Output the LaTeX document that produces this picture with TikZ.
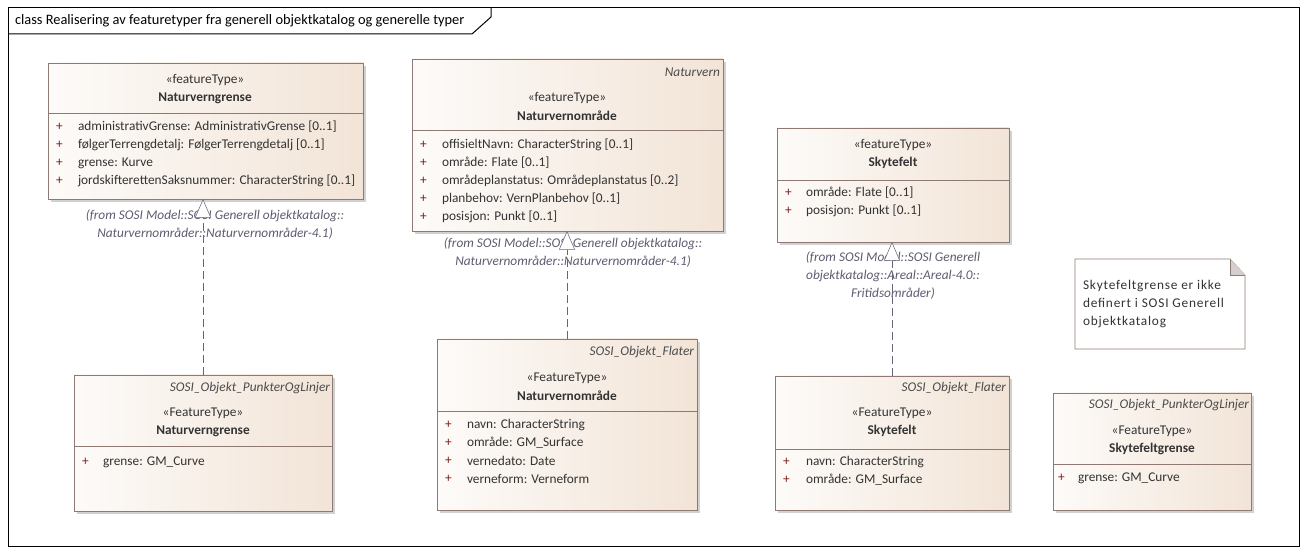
\documentclass[tikz,border=0pt]{standalone}
\usepackage{fontspec}
\setmainfont{Carlito}
\newfontfamily\notefont[LetterSpace=6]{Carlito}
\usetikzlibrary{arrows.meta, calc}

\definecolor{boxborder}{HTML}{8E7A72}
\definecolor{boxright}{HTML}{F2E4D7}
\definecolor{boxleft}{HTML}{FDFBF9}
\definecolor{boxtext}{HTML}{333333}
\definecolor{plusred}{HTML}{7A1E1E}
\definecolor{fromgray}{HTML}{5C5C70}
\definecolor{linkgray}{HTML}{66667A}
\definecolor{foldgray}{HTML}{D6CFCD}

% box: name, x1, y1, x2, y2, divider
\newcommand\DrawClass[6]{
	\fill[boxshadow] (#2+3,#3+3) rectangle (#4+3,#5+3);
	\node[classbox, minimum width={(#4-#2)*0.75pt}, minimum height={(#5-#3)*0.75pt}] (#1) at ({(#2+#4)/2},{(#3+#5)/2}) {};
	\draw[boxborder] (#2,#6) -- (#4,#6);
}
% stereotype and class name: name, x, y, stereotype, class
\newcommand\DrawHead[5]{
	\node[stereo] (#1-st) at (#2,#3) {«#4»};
	\node[cname] (#1-nm) at (#2,#3+18) {#5};
}
% attributes: name, x of +, x of text, first y, list
\newcommand\DrawAttrs[5]{
	\foreach \a [count=\i] in {#5}
	{
		\node[plus] (#1-p\i) at (#2,{#4+18*(\i-1)}) {+};
		\node[attr] (#1-a\i) at (#3,{#4+18*(\i-1)}) {\a};
	}
}

\begin{document}
\begin{tikzpicture}[x=0.75pt, y=-0.75pt,
	every node/.style={inner sep=0pt, outer sep=0pt, font=\fontsize{10}{13.5}\selectfont, text=boxtext},
	classbox/.style={draw=boxborder, shading=axis, left color=boxleft, right color=boxright, shading angle=90},
	boxshadow/.style={fill=black!18},
	stereo/.style={anchor=center},
	cname/.style={anchor=center, font=\fontsize{10}{13.5}\selectfont\bfseries},
	plus/.style={anchor=west, text=plusred},
	attr/.style={anchor=west},
	pkg/.style={anchor=east, font=\fontsize{10}{13.5}\selectfont\itshape, text=black!70},
	from/.style={align=center, font=\fontsize{10}{13.5}\selectfont\itshape, text=fromgray},
	realize/.style={draw=linkgray, dash pattern=on 6pt off 3pt, -{Triangle[open, fill=white, width=12pt, length=14pt]}},
	notetext/.style={anchor=west, align=left, font=\fontsize{10}{13.5}\notefont},
	frameline/.style={draw=black, line width=0.75pt}]
	\useasboundingbox (0,0) rectangle (1307,555);

	% frame
	\draw[frameline] (8,8) rectangle (1299,547);
	\draw[frameline] (8,34) -- (472,34) -- (491,17) -- (491,8);
	\node[anchor=west, font=\fontsize{10.8}{12}\selectfont, text=black] (title) at (15,21) {class Realisering av featuretyper fra generell objektkatalog og generelle typer};

	% Naturverngrense
	\DrawClass{ngFT}{48}{63}{363}{199}{113}
	\DrawHead{ngFT}{205}{80}{featureType}{Naturverngrense}
	\DrawAttrs{ngFT}{56}{78}{127}{{administrativGrense: AdministrativGrense [0..1]},{følgerTerrengdetalj: FølgerTerrengdetalj [0..1]},{grense: Kurve},{jordskifterettenSaksnummer: CharacterString [0..1]}}
	\node[from] (ngFrom) at (215,225) {(from SOSI Model::SOSI Generell objektkatalog::\\Naturvernområder::Naturvernområder-4.1)};

	\DrawClass{ngObj}{74}{375}{332}{511}{446}
	\node[pkg] (ngObj-pk) at (330,388) {SOSI\_Objekt\_PunkterOgLinjer};
	\DrawHead{ngObj}{203}{413}{FeatureType}{Naturverngrense}
	\DrawAttrs{ngObj}{82}{103}{462}{{grense: GM\_Curve}}

	% Naturvernområde
	\DrawClass{noFT}{412}{59}{723}{231}{130}
	\node[pkg] (noFT-pk) at (720,72) {Naturvern};
	\DrawHead{noFT}{567}{98}{featureType}{Naturvernområde}
	\DrawAttrs{noFT}{420}{442}{145}{{offisieltNavn: CharacterString [0..1]},{område: Flate [0..1]},{områdeplanstatus: Områdeplanstatus [0..2]},{planbehov: VernPlanbehov [0..1]},{posisjon: Punkt [0..1]}}
	\node[from] (noFrom) at (573,253) {(from SOSI Model::SOSI Generell objektkatalog::\\Naturvernområder::Naturvernområder-4.1)};

	\DrawClass{noObj}{437}{339}{697}{510}{411}
	\node[pkg] (noObj-pk) at (694,352) {SOSI\_Objekt\_Flater};
	\DrawHead{noObj}{567}{378}{FeatureType}{Naturvernområde}
	\DrawAttrs{noObj}{445}{467}{425}{{navn: CharacterString},{område: GM\_Surface},{vernedato: Date},{verneform: Verneform}}

	% Skytefelt
	\DrawClass{sfFT}{777}{128}{1009}{242}{180}
	\DrawHead{sfFT}{893}{145}{featureType}{Skytefelt}
	\DrawAttrs{sfFT}{785}{806}{193}{{område: Flate [0..1]},{posisjon: Punkt [0..1]}}
	\node[from] (sfFrom) at (893,276) {(from SOSI Model::SOSI Generell\\objektkatalog::Areal::Areal-4.0::\\Fritidsområder)};

	\DrawClass{sfObj}{775}{376}{1009}{510}{449}
	\node[pkg] (sfObj-pk) at (1006,388) {SOSI\_Objekt\_Flater};
	\DrawHead{sfObj}{892}{413}{FeatureType}{Skytefelt}
	\DrawAttrs{sfObj}{783}{806}{462}{{navn: CharacterString},{område: GM\_Surface}}

	% Skytefeltgrense
	\DrawClass{sgObj}{1053}{393}{1251}{510}{464}
	\node[pkg] (sgObj-pk) at (1249,405) {SOSI\_Objekt\_PunkterOgLinjer};
	\DrawHead{sgObj}{1152}{431}{FeatureType}{Skytefeltgrense}
	\DrawAttrs{sgObj}{1058}{1078}{478}{{grense: GM\_Curve}}

	% note
	\node[minimum width=127.5pt, minimum height=67.5pt] (note) at (1160,304) {};
	\draw[boxborder, fill=white] (note.north west) -- ($(note.north east)+(-15,0)$) -- ($(note.north east)+(0,16)$) -- (note.south east) -- (note.south west) -- cycle;
	\draw[boxborder, fill=foldgray] ($(note.north east)+(-15,0)$) -- ($(note.north east)+(-15,16)$) -- ($(note.north east)+(0,16)$);
	\node[notetext] (noteText) at (1083,304) {Skytefeltgrense er ikke\\definert i SOSI Generell\\objektkatalog};

	% realisations
	\draw[realize] (ngObj.north) -- (ngObj.north |- ngFT.south);
	\draw[realize] (noObj.north) -- (noObj.north |- noFT.south);
	\draw[realize] (sfObj.north) -- (sfObj.north |- sfFT.south);
\end{tikzpicture}
\end{document}
